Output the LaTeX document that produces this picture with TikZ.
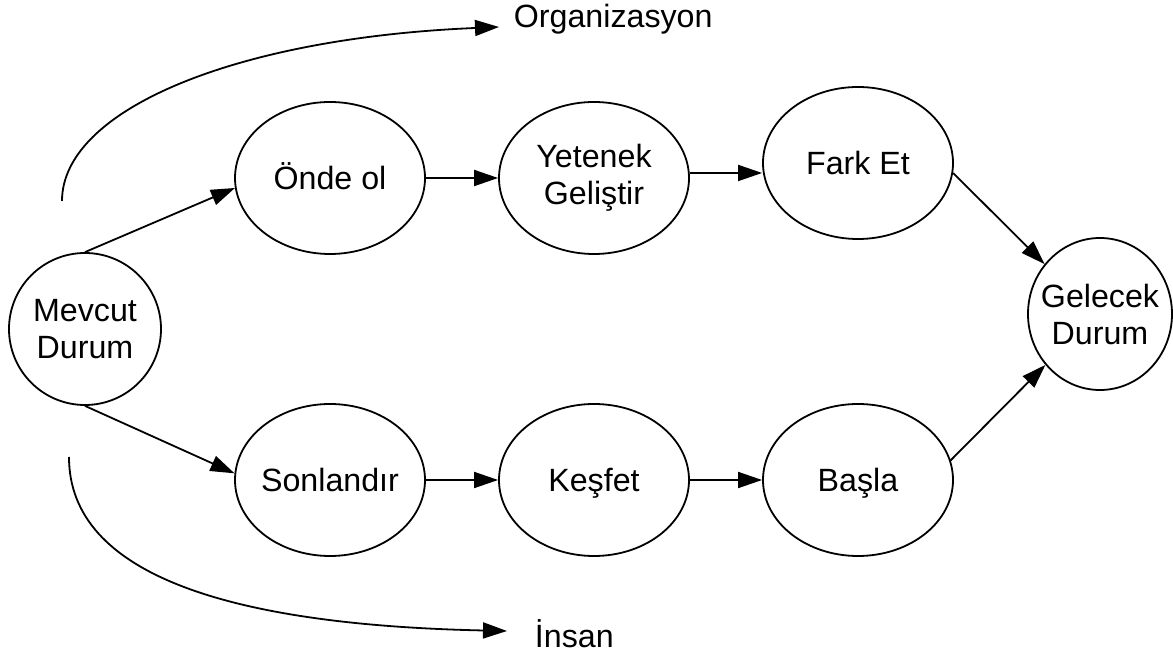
\documentclass[tikz,border=0pt]{standalone}
\usepackage{fontspec}
\setmainfont{Liberation Sans}
\usetikzlibrary{shapes.geometric,arrows.meta}
\begin{document}
\begin{tikzpicture}[x=0.5pt,y=-0.5pt,
  line width=0.9pt,
  txt/.style={font=\fontsize{16.1}{18.5}\selectfont,align=center,inner sep=0pt},
  oneline/.style={txt,text height=11.5pt,text depth=0pt},
  shp/.style={draw,ellipse,inner sep=0pt},
  oval/.style={shp,minimum width=95pt,minimum height=76pt},
  conn/.style={-{Triangle[length=12pt,width=8pt]}}]
\useasboundingbox (0,0) rectangle (1173,656);
\fill[white] (0,0) rectangle (1173,656);

% states
\node[shp,minimum width=76pt,minimum height=76pt,
      label={[txt]center:Mevcut\\Durum}] (m) at (85,329) {};
\node[shp,minimum width=72pt,minimum height=76pt,
      label={[txt]center:Gelecek\\Durum}] (g) at (1100,314) {};

% upper path
\node[oval,label={[oneline]center:Önde ol}] (o) at (330,178) {};
\node[oval,label={[txt]center:Yetenek\\Geliştir}] (y) at (594,178) {};
\node[oval,label={[oneline]center:Fark Et}] (f) at (858,163) {};

% lower path
\node[oval,label={[oneline]center:Sonlandır}] (s) at (330,480) {};
\node[oval,label={[oneline]center:Keşfet}] (k) at (594,480) {};
\node[oval,label={[oneline]center:Başla}] (b) at (858,480) {};

% side labels
\node[txt,anchor=base west] (org) at (513,28) {Organizasyon};
\node[txt,anchor=base west] (ins) at (534,648) {İnsan};

% flows
\draw[conn] (m.north) -- (o.186);
\draw[conn] (m.south) -- (s.176);
\draw[conn] (o.east) -- (y.west);
\draw[conn] (y.3) -- (f.west |- y.3);
\draw[conn] (s.east) -- (k.west);
\draw[conn] (k.east) -- (b.west);
\draw[conn] (f.-6) -- (g.138);
\draw[conn] (b.12) -- (g.223);

% sweeping curves
\coordinate (ts) at (62,201);
\coordinate (te) at (499,27);
\coordinate (bs) at (69,457);
\coordinate (be) at (507,631);
\draw[conn] (ts) .. controls (62,110) and (235,38) .. (te);
\draw[conn] (bs) .. controls (69,575) and (230,625) .. (be);
\end{tikzpicture}
\end{document}
